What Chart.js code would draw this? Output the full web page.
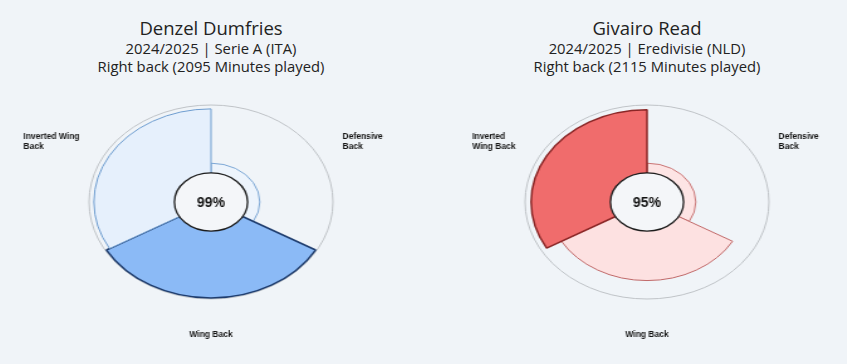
<!DOCTYPE html>
<html>
<head>
<meta charset="utf-8">
<script src="https://cdn.jsdelivr.net/npm/chart.js@4.4.1/dist/chart.umd.min.js"></script>
<style>
  body { margin: 0; background: #f0f4f8; width: 847px; height: 364px; overflow: hidden; position: relative; font-family: 'Open Sans', 'Noto Sans', sans-serif; color: #222; }
  .head { position: absolute; top: 0; width: 420px; text-align: center; }
  .head h2 { margin: 0; padding-top: 16px; font-size: 18.5px; font-weight: 400; line-height: 23px; }
  .head p { margin: 0; font-size: 14.8px; line-height: 18px; }
  canvas { position: absolute; top: 72px; }
</style>
</head>
<body>
<div class="head" style="left:1px">
  <h2>Denzel Dumfries</h2>
  <p>2024/2025 | Serie A (ITA)</p>
  <p>Right back (2095 Minutes played)</p>
</div>
<div class="head" style="left:437px">
  <h2>Givairo Read</h2>
  <p>2024/2025 | Eredivisie (NLD)</p>
  <p>Right back (2115 Minutes played)</p>
</div>
<canvas id="dumfries" width="334" height="280" style="left:1px;width:420px;height:280px"></canvas>
<canvas id="read" width="334" height="280" style="left:437px;width:420px;height:280px"></canvas>
<script>
// role scores (percentile), order: Defensive Back, Wing Back, Inverted Wing Back
const dumfriesLabels = [['Defensive', 'Back'], ['Wing Back'], ['Inverted Wing', 'Back']];
const readLabels = [['Defensive', 'Back'], ['Wing Back'], ['Inverted', 'Wing Back']];
const dumfriesScores = [40, 99, 96];
const readScores = [40, 81, 95];
const holeValue = 30;

const textFont = "'Liberation Sans', Arial, sans-serif";

// the canvas is stretched sideways by css, text is drawn un-stretched
function unstretch(chart) {
  return chart.canvas.clientWidth / chart.width;
}

const centerHole = {
  id: 'centerHole',
  afterDatasetsDraw(chart, args, opts) {
    const r = chart.scales.r;
    const ctx = chart.ctx;
    const k = unstretch(chart);
    const rad = r.getDistanceFromCenterForValue(holeValue);
    ctx.save();
    ctx.beginPath();
    ctx.arc(r.xCenter, r.yCenter, rad, 0, Math.PI * 2);
    ctx.fillStyle = '#f4f6f9';
    ctx.fill();
    ctx.lineWidth = 1.3;
    ctx.strokeStyle = '#1c1c1c';
    ctx.stroke();
    ctx.translate(r.xCenter, r.yCenter);
    ctx.scale(1 / k, 1);
    ctx.font = 'bold 14px ' + textFont;
    ctx.textAlign = 'center';
    ctx.textBaseline = 'middle';
    ctx.fillStyle = '#111';
    ctx.fillText(opts.text, 0, 1);
    ctx.restore();
  }
};

// role names round the wheel, placed with the radial scale
const roleLabels = {
  id: 'roleLabels',
  afterDraw(chart) {
    const r = chart.scales.r;
    const ctx = chart.ctx;
    const k = unstretch(chart);
    const labels = chart.data.labels;
    const step = Math.PI / labels.length;
    const lineH = 10.5;
    ctx.save();
    ctx.font = 'bold 8.5px ' + textFont;
    ctx.fillStyle = '#141414';
    ctx.textAlign = 'left';
    ctx.textBaseline = 'middle';
    labels.forEach((lines, i) => {
      const p = r.getPointPosition(i, r.drawingArea * 1.245, step);
      const w = Math.max(...lines.map(t => ctx.measureText(t).width));
      const deg = (i * 2 + 1) * 180 / labels.length;
      let left, top;
      if (deg < 170) { left = 0; top = -lines.length * lineH / 2; }
      else if (deg > 190) { left = -w; top = -lines.length * lineH / 2; }
      else { left = -w / 2; top = 7; }
      ctx.save();
      ctx.translate(p.x, p.y);
      ctx.scale(1 / k, 1);
      lines.forEach((t, j) => ctx.fillText(t, left, top + lineH * (j + 0.5)));
      ctx.restore();
    });
    ctx.restore();
  }
};

function drawWheel(id, labels, scores, fills, borders, widths) {
  const ctx = document.getElementById(id).getContext('2d');
  return new Chart(ctx, {
    type: 'polarArea',
    data: {
      labels: labels,
      datasets: [{
        data: scores,
        backgroundColor: fills,
        borderColor: borders,
        borderWidth: widths
      }]
    },
    options: {
      responsive: false,
      animation: false,
      devicePixelRatio: 1,
      layout: { padding: { top: 33, bottom: 53, left: 0, right: 0 } },
      scales: {
        r: {
          min: 0,
          max: 100,
          startAngle: 0,
          ticks: { display: false, stepSize: 100 },
          grid: { color: '#bfc3c7', lineWidth: 1 },
          angleLines: { display: false },
          pointLabels: { display: false }
        }
      },
      plugins: {
        legend: { display: false },
        tooltip: { enabled: false },
        centerHole: { text: Math.max(...scores) + '%' }
      }
    },
    plugins: [centerHole, roleLabels]
  });
}

drawWheel('dumfries', dumfriesLabels, dumfriesScores,
  ['#edf4fc', '#8bbaf6', '#e6f0fc'],
  ['#7ba6d4', '#1f3d6e', '#6d9ccf'],
  [1, 1.5, 1]);

drawWheel('read', readLabels, readScores,
  ['#fde4e4', '#fde1e1', '#f06c6c'],
  ['#c87474', '#c06868', '#8a2626'],
  [1, 1, 1.5]);
</script>
</body>
</html>
